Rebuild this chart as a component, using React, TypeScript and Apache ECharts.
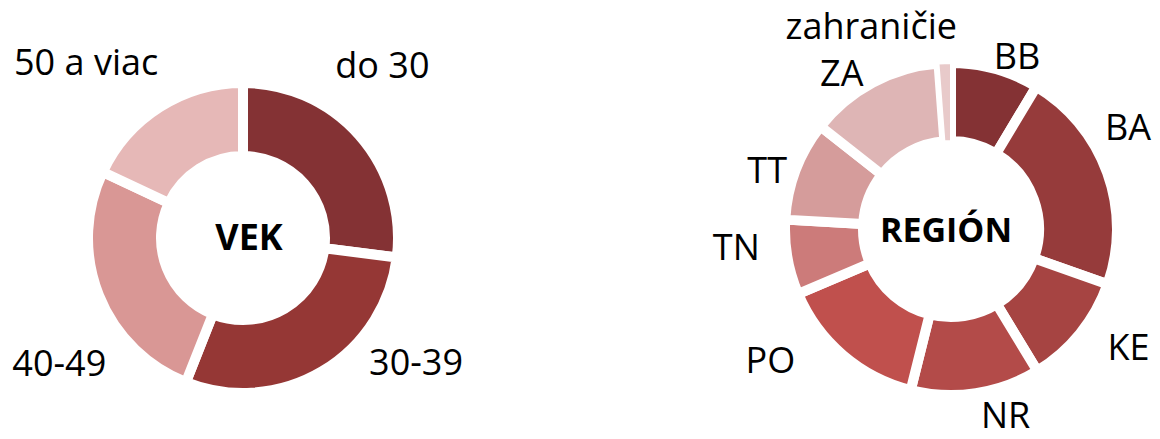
import React, { useEffect, useRef } from 'react';
import * as echarts from 'echarts';

// ---- Data ----
const vekCategories = ['do 30', '30-39', '40-49', '50 a viac'];
const vekValues = [27, 29, 26, 18];

const regionCategories = ['BB', 'BA', 'KE', 'NR', 'PO', 'TN', 'TT', 'ZA', 'zahraničie'];
const regionValues = [8.6, 21.8, 10.9, 12.6, 14.7, 7.3, 9.7, 13.2, 1.2];

const vekTitle = 'VEK';
const regionTitle = 'REGIÓN';

// ---- Styles / layout ----
const vekColors = ['#843234', '#953735', '#D99795', '#E6B8B7'];
const regionColors = ['#843234', '#963B3B', '#A64442', '#B34B49', '#C0504D', '#CC7B7A', '#D59C9B', '#DEB5B5', '#E8CACA'];
const vekBorders = [10, 10, 10, 10];
const regionBorders = [10, 10, 10, 10, 10, 10, 10, 10, 2];

const FONT = '"Open Sans", "Noto Sans", sans-serif';
const vekCenter = [243, 238];
const regionCenter = [951, 229];
const vekRadius = [82, 155];
const regionRadius = [88, 166];

// label fine-tuning offsets (dx, dy) per slice
const vekLabelOffsets = [[-44, -58], [32, -27], [31, 60], [14, -29]];
const regionLabelOffsets = [[-12, 6], [-26, -39], [7, 0], [-3, 2], [-30, -11], [-3, -14], [15, 6], [5, 8], [18, -18]];

export default function App() {
  const ref = useRef<HTMLDivElement>(null);

  useEffect(() => {
    document.body.style.margin = '0';
    const chart = echarts.init(ref.current!, null, { renderer: 'svg' });

    const pieBase = (name: string, cats: string[], vals: number[], colors: string[], borders: number[], center: number[], radius: number[]) => ({
      type: 'pie',
      name,
      center,
      radius,
      startAngle: 90,
      clockwise: true,
      avoidLabelOverlap: false,
      silent: true,
      itemStyle: { borderColor: '#ffffff', borderWidth: 10 },
      label: {
        show: true,
        position: 'outside',
        fontFamily: FONT,
        fontSize: 36,
        lineHeight: 36,
        color: '#000000',
        distanceToLabelLine: 5,
      },
      labelLine: { show: false, length: 20, length2: 0 },
      data: cats.map((c, i) => ({
        name: c,
        value: vals[i],
        itemStyle: { color: colors[i], borderColor: '#ffffff', borderWidth: borders[i] },
      })),
    });

    chart.setOption({
      animation: false,
      backgroundColor: '#ffffff',
      series: [
        {
          ...pieBase('vek', vekCategories, vekValues, vekColors, vekBorders, vekCenter, vekRadius),
          labelLayout: (p: any) => ({ dx: vekLabelOffsets[p.dataIndex][0], dy: vekLabelOffsets[p.dataIndex][1] }),
        },
        {
          ...pieBase('region', regionCategories, regionValues, regionColors, regionBorders, regionCenter, regionRadius),
          labelLayout: (p: any) => ({ dx: regionLabelOffsets[p.dataIndex][0], dy: regionLabelOffsets[p.dataIndex][1] }),
        },
      ],
      graphic: [
        {
          type: 'text',
          x: vekCenter[0] + 6,
          y: vekCenter[1] - 2,
          silent: true,
          style: { text: vekTitle, font: `bold 36px ${FONT}`, fill: '#000000', align: 'center', verticalAlign: 'middle' },
        },
        {
          type: 'text',
          x: regionCenter[0] - 5,
          y: regionCenter[1],
          silent: true,
          style: { text: regionTitle, font: `bold 34px ${FONT}`, fill: '#000000', align: 'center', verticalAlign: 'middle' },
        },
      ],
    });

    return () => chart.dispose();
  }, []);

  return <div ref={ref} style={{ width: 1160, height: 439 }} />;
}
